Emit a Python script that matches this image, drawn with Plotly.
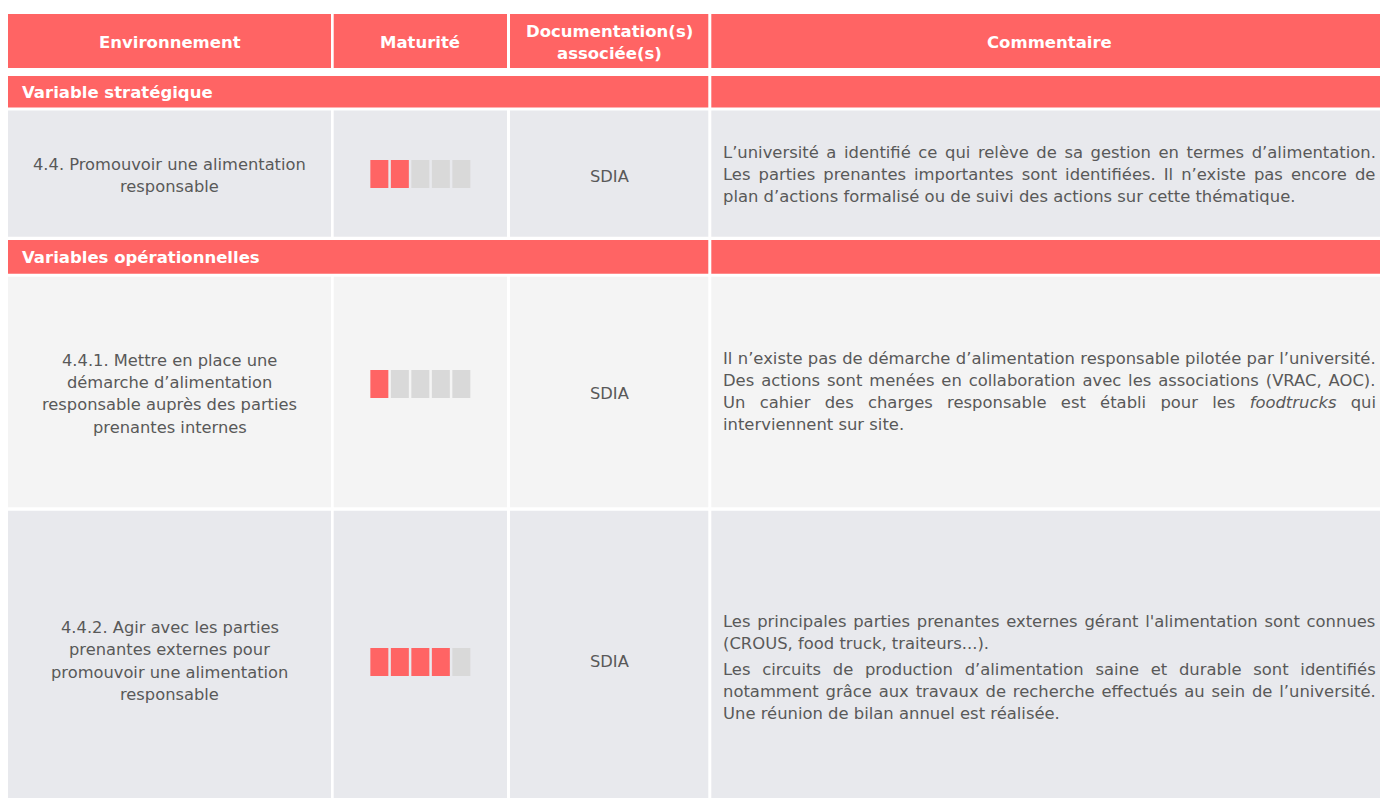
import plotly.graph_objects as go

# ---------------- data ----------------
headers = [["Environnement"], ["Maturité"], ["Documentation(s)", "associée(s)"], ["Commentaire"]]
sections = ["Variable stratégique", "Variables opérationnelles"]
criteria = [
    ["4.4. Promouvoir une alimentation", "responsable"],
    ["4.4.1. Mettre en place une", "démarche d’alimentation", "responsable auprès des parties", "prenantes internes"],
    ["4.4.2. Agir avec les parties", "prenantes externes pour", "promouvoir une alimentation", "responsable"],
]
maturity = [2, 1, 4]
max_level = 5
documentation = ["SDIA", "SDIA", "SDIA"]
comments = [
    [[
        "L’université a identifié ce qui relève de sa gestion en termes d’alimentation.",
        "Les parties prenantes importantes sont identifiées. Il n’existe pas encore de",
        "plan d’actions formalisé ou de suivi des actions sur cette thématique.",
    ]],
    [[
        "Il n’existe pas de démarche d’alimentation responsable pilotée par l’université.",
        "Des actions sont menées en collaboration avec les associations (VRAC, AOC).",
        "Un cahier des charges responsable est établi pour les <i>foodtrucks</i> qui",
        "interviennent sur site.",
    ]],
    [
        [
            "Les principales parties prenantes externes gérant l'alimentation sont connues",
            "(CROUS, food truck, traiteurs...).",
        ],
        [
            "Les circuits de production d’alimentation saine et durable sont identifiés",
            "notamment grâce aux travaux de recherche effectués au sein de l’université.",
            "Une réunion de bilan annuel est réalisée.",
        ],
    ],
]

# ---------------- style / layout ----------------
W, H = 1380, 798
RED = "#FF6464"
GREY_BLOCK = "#D9D9D9"
ROW_BG = ["#E8E9ED", "#F4F4F4", "#E8E9ED"]
TXT = "#595959"
FONT = "'DejaVu Sans', Verdana, sans-serif"
LEFT_SIZE = 16.3
COM_SIZE = 16.4
BOLD = 16.5

cols = [(8, 331), (333.7, 507), (510, 708.3), (711.3, 1400)]
header_y = (14, 68)
band_y = [(76, 107.5), (240, 273.7)]
row_y = [(110.5, 236.7), (276.7, 507.3), (510.7, 820)]
left_center = [175.3, 393.7, 661]
doc_center = [176, 393, 661]
block_center = [174, 384, 662]
comment_center = [174.5, 391.5, 667]
COM_X0, COM_X1 = 721, 1375

# approximate DejaVu Sans advance widths (units per em = 2048) used for justification
ADV = {" ": 651, "'": 563, "’": 651, "(": 799, ")": 799, ",": 651, ".": 651, "-": 739,
       "A": 1401, "B": 1405, "C": 1430, "D": 1577, "E": 1294, "F": 1178, "G": 1587, "H": 1540,
       "I": 604, "J": 604, "K": 1343, "L": 1141, "M": 1767, "N": 1532, "O": 1612, "P": 1235,
       "Q": 1612, "R": 1423, "S": 1300, "T": 1251, "U": 1499, "V": 1401, "W": 2025,
       "a": 1255, "b": 1300, "c": 1126, "d": 1300, "e": 1260, "f": 721, "g": 1300, "h": 1298,
       "i": 569, "j": 569, "k": 1186, "l": 569, "m": 1995, "n": 1298, "o": 1253, "p": 1300,
       "q": 1300, "r": 842, "s": 1067, "t": 803, "u": 1298, "v": 1212, "w": 1675, "x": 1212,
       "y": 1212, "z": 1075, "é": 1260, "è": 1260, "ê": 1260, "à": 1255, "â": 1255, "ç": 1126,
       "î": 569, "ô": 1253, "û": 1298, "ù": 1298}


def text_width(s, size):
    s = s.replace("<i>", "").replace("</i>", "")
    return sum(ADV.get(c, 1200) for c in s) * size / 2048.0


fig = go.Figure()
shapes = []
ann = []


def rect(x0, x1, y0, y1, color):
    shapes.append(dict(type="rect", xref="x", yref="y", x0=x0, x1=x1, y0=y0, y1=y1,
                       fillcolor=color, line=dict(width=0), layer="below"))


def label(x, y, text, size, color, xanchor="center"):
    ann.append(dict(x=x, y=y, text=text, font=dict(family=FONT, size=size, color=color),
                    showarrow=False, xanchor=xanchor, yanchor="middle", align=xanchor))


# header
for (x0, x1), h in zip(cols, headers):
    rect(x0, x1, header_y[0], header_y[1], RED)
    lh = 22
    yy = (header_y[0] + header_y[1]) / 2 - (len(h) - 1) * lh / 2 + 1
    cx = (x0 + x1) / 2 if x1 < 1390 else 1049
    for line in h:
        label(cx, yy, f"<b>{line}</b>", BOLD, "white")
        yy += lh

# section bands
for (y0, y1), s in zip(band_y, sections):
    rect(cols[0][0], cols[2][1], y0, y1, RED)
    rect(cols[3][0], cols[3][1], y0, y1, RED)
    label(20, (y0 + y1) / 2 + 0.5, f"<b>{s}</b>", BOLD, "white", xanchor="left")

LH_LEFT = 22.4
LH_COM = 22.0
PARA_GAP = 4.0
for i in range(3):
    y0, y1 = row_y[i]
    for (x0, x1) in cols:
        rect(x0, x1, y0, y1, ROW_BG[i])
    # criterion text
    cx = (cols[0][0] + cols[0][1]) / 2
    yy = left_center[i] - (len(criteria[i]) - 1) * LH_LEFT / 2
    for line in criteria[i]:
        label(cx, yy, line, LEFT_SIZE, TXT)
        yy += LH_LEFT
    # documentation
    label((cols[2][0] + cols[2][1]) / 2, doc_center[i], documentation[i], LEFT_SIZE, TXT)
    # maturity blocks
    bw, pitch, bh = 18, 20.5, 28
    start = (cols[1][0] + cols[1][1]) / 2 - (pitch * (max_level - 1) + bw) / 2
    for k in range(max_level):
        bx0 = start + k * pitch
        rect(bx0, bx0 + bw, block_center[i] - bh / 2, block_center[i] + bh / 2,
             RED if k < maturity[i] else GREY_BLOCK)
    # comment lines (justified except last line of each paragraph)
    paras = comments[i]
    nlines = sum(len(p) for p in paras)
    total = (nlines - 1) * LH_COM + (len(paras) - 1) * PARA_GAP
    yy = comment_center[i] - total / 2
    for p in paras:
        for j, line in enumerate(p):
            txt = line
            if j < len(p) - 1:
                nsp = line.count(" ")
                extra = (COM_X1 - COM_X0 - text_width(line, COM_SIZE)) / max(nsp, 1)
                txt = f"<span style='word-spacing:{extra:.2f}px'>{line}</span>"
            label(COM_X0, yy, txt, COM_SIZE, TXT, xanchor="left")
            yy += LH_COM
        yy += PARA_GAP

fig.add_trace(go.Scatter(x=[0, W], y=[0, H], mode="markers", marker=dict(opacity=0),
                         hoverinfo="skip", showlegend=False))

fig.update_layout(
    width=W, height=H, margin=dict(l=0, r=0, t=0, b=0),
    paper_bgcolor="white", plot_bgcolor="white",
    xaxis=dict(range=[0, W], visible=False, fixedrange=True),
    yaxis=dict(range=[H, 0], visible=False, fixedrange=True),
    shapes=shapes, annotations=ann, showlegend=False,
)

fig.write_html("out.html", config={"displayModeBar": False},
               post_script="document.body.style.margin='0';document.body.style.overflow='hidden';")
